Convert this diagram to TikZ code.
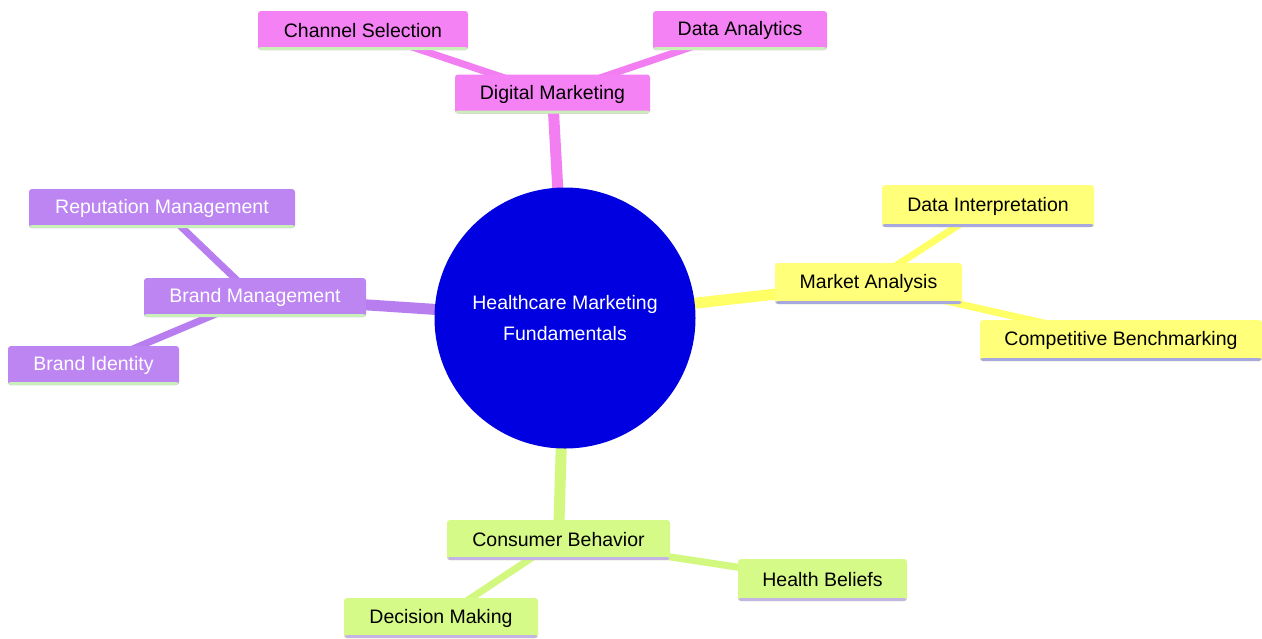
\documentclass[tikz,border=0pt]{standalone}
\usepackage{fontspec}
\setmainfont{Liberation Sans}
\usetikzlibrary{backgrounds}
\definecolor{pinkN}{HTML}{F482F4}
\definecolor{purpN}{HTML}{BC85F2}
\definecolor{yelN}{HTML}{FFFF7A}
\definecolor{grnN}{HTML}{D6FA88}
\definecolor{pinkE}{HTML}{F27EF2}
\definecolor{purpE}{HTML}{B87EF0}
\definecolor{yelE}{HTML}{FFFF66}
\definecolor{grnE}{HTML}{D2F880}
\definecolor{lgline}{HTML}{C8F0B8}
\definecolor{lavline}{HTML}{A8A8E0}
\definecolor{lav2}{HTML}{C4B4E4}
\definecolor{coreblue}{HTML}{0000E0}
\tikzset{
  box/.style={rectangle, rounded corners=3pt, minimum height=39pt, inner sep=0pt,
    font=\fontsize{19.5}{23}\selectfont, text=black},
  uline/.style={path picture={\fill[#1] ([yshift=3pt]path picture bounding box.south west) rectangle (path picture bounding box.south east);}},
  pinkbox/.style={box, fill=pinkN, uline=lgline},
  purpbox/.style={box, fill=purpN, text=white, uline=lgline},
  yelbox/.style={box, fill=yelN, uline=lavline},
  grnbox/.style={box, fill=grnN, uline=lav2},
  main/.style={line width=11pt},
  leaf/.style={line width=7pt},
}
\begin{document}
\begin{tikzpicture}[x=1pt,y=-1pt]
\useasboundingbox (0,0) rectangle (1262,638);

\node[circle, fill=coreblue, minimum size=261pt, inner sep=0pt, text=white, align=center,
  font=\fontsize{19.5}{31}\selectfont] (core) at (565,318) {Healthcare Marketing\\Fundamentals};

\node[pinkbox, minimum width=195pt] (dm) at (552.5,94) {Digital Marketing};
\node[pinkbox, minimum width=210pt] (cs) at (363,30.5) {Channel Selection};
\node[pinkbox, minimum width=174pt] (da) at (740,30.5) {Data Analytics};

\node[purpbox, minimum width=222pt] (bm) at (255,297.5) {Brand Management};
\node[purpbox, minimum width=266pt] (rm) at (162,208.5) {Reputation Management};
\node[purpbox, minimum width=171pt] (bi) at (93.5,365.5) {Brand Identity};

\node[yelbox, minimum width=187pt, minimum height=41pt] (ma) at (868.5,283.5) {Market Analysis};
\node[yelbox, minimum width=212pt, minimum height=42pt] (di) at (988,206) {Data Interpretation};
\node[yelbox, minimum width=282pt, minimum height=41pt] (cb) at (1121,340.5) {Competitive Benchmarking};

\node[grnbox, minimum width=223pt, minimum height=40pt] (con) at (558.5,540) {Consumer Behavior};
\node[grnbox, minimum width=169pt, minimum height=42pt] (hb) at (822.5,580) {Health Beliefs};
\node[grnbox, minimum width=194pt, minimum height=40pt] (dmk) at (441,618) {Decision Making};

\begin{scope}[on background layer]
\fill[white] (0,0) rectangle (1262,638);
\draw[main, pinkE] (core.center) -- (dm.center);
\draw[leaf, pinkE] (dm.center) -- (cs.center);
\draw[leaf, pinkE] (dm.center) -- (da.center);
\draw[main, purpE] (core.center) -- (bm.center);
\draw[leaf, purpE] (bm.center) -- (rm.center);
\draw[leaf, purpE] (bm.center) -- (bi.center);
\draw[main, yelE] (core.center) -- (ma.center);
\draw[leaf, yelE] (ma.center) -- (di.center);
\draw[leaf, yelE] (ma.center) -- (cb.center);
\draw[main, grnE] (core.center) -- (con.center);
\draw[leaf, grnE] (con.center) -- (hb.center);
\draw[leaf, grnE] (con.center) -- (dmk.center);
\end{scope}
\end{tikzpicture}
\end{document}
